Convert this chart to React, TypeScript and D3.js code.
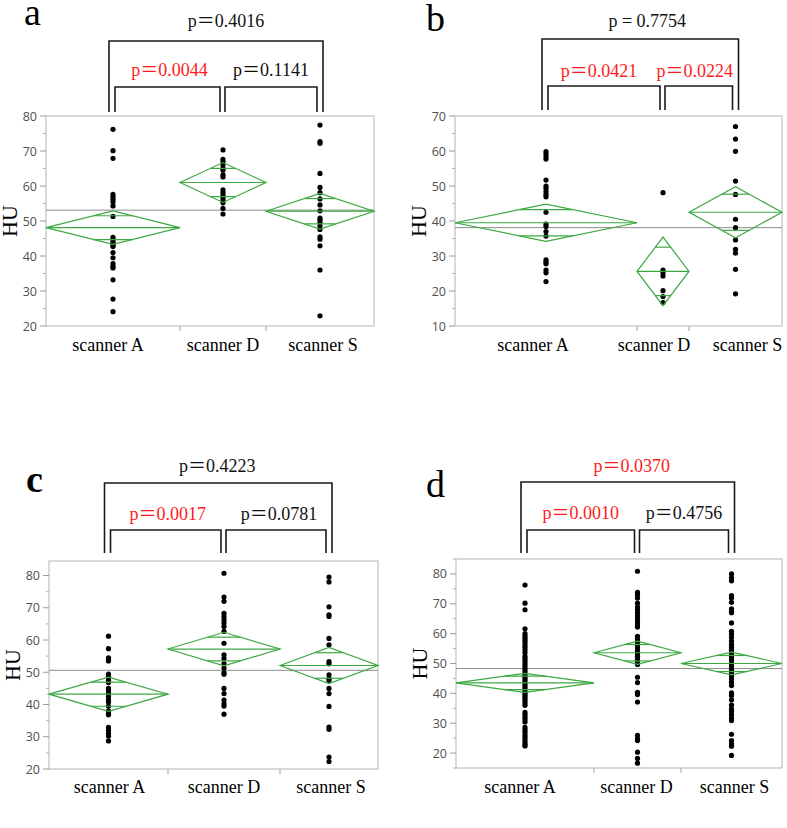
import React, { useEffect, useRef } from "react";
import * as d3 from "d3";

// group labels
const groups = ["scanner A", "scanner D", "scanner S"];

// panel a - HU values per scanner
const aScannerA = [76.2, 70.1, 67.9, 57.6, 56.9, 56.2, 55.5, 54.3, 51.3, 45.3, 44.6, 44.0, 43.5, 43.0, 42.7, 41.0, 39.5, 37.8, 37.0, 36.6, 33.2, 27.7, 24.1];
const aScannerD = [70.3, 67.6, 66.9, 66.0, 65.0, 64.5, 63.2, 62.6, 58.9, 58.2, 57.4, 56.7, 56.0, 55.2, 53.6, 52.0];
const aScannerS = [77.4, 72.7, 72.2, 63.6, 59.6, 58.1, 56.3, 54.6, 52.9, 50.8, 50.2, 49.5, 48.6, 47.6, 45.5, 44.8, 42.9, 36.0, 22.9];
const aMeans = [48.1, 61.0, 52.8];
const aCI = [4.8, 5.7, 5.1];
const aGrand = 53.1;
const aP = ["p＝0.4016", "p＝0.0044", "p＝0.1141"];

// panel b
const bScannerA = [59.8, 59.2, 58.4, 57.7, 51.7, 50.0, 49.3, 48.4, 47.6, 46.9, 42.5, 39.1, 38.4, 37.0, 35.7, 28.9, 28.3, 27.8, 26.0, 25.2, 22.7];
const bScannerD = [48.1, 26.0, 25.2, 24.3, 20.1, 18.4, 16.7];
const bScannerS = [67.0, 63.4, 59.9, 51.4, 47.6, 40.5, 38.1, 34.6, 31.9, 30.8, 26.2, 19.2];
const bMeans = [39.5, 25.6, 42.5];
const bCI = [5.3, 9.8, 7.3];
const bGrand = 38.1;
const bP = ["p = 0.7754", "p＝0.0421", "p＝0.0224"];

// panel c
const cScannerA = [61.2, 57.3, 54.5, 54.0, 53.5, 49.4, 48.5, 47.5, 46.8, 45.0, 44.5, 43.5, 42.5, 41.5, 40.8, 39.5, 38.0, 37.3, 36.8, 32.9, 32.0, 31.0, 30.2, 28.7];
const cScannerD = [80.7, 73.3, 72.0, 68.3, 67.3, 66.3, 65.3, 64.2, 62.7, 59.0, 55.4, 54.3, 52.7, 51.3, 49.9, 49.4, 45.0, 43.4, 41.4, 40.2, 39.5, 37.0];
const cScannerS = [79.5, 78.0, 70.3, 67.8, 67.3, 60.5, 58.5, 53.3, 52.6, 49.2, 48.0, 47.5, 45.0, 43.4, 39.4, 33.0, 32.3, 23.7, 22.3];
const cMeans = [43.2, 57.2, 52.1];
const cCI = [5.3, 5.2, 5.6];
const cGrand = 50.6;
const cP = ["p＝0.4223", "p＝0.0017", "p＝0.0781"];

// panel d
const dScannerA = [76.3, 70.2, 68.0, 61.6, 60.0, 59.2, 58.5, 57.8, 57.0, 56.2, 55.4, 54.5, 53.6, 52.4, 51.6, 50.8, 50.0, 49.2, 48.4, 47.6, 46.8, 46.0, 45.3, 44.6, 43.9, 43.2, 42.5, 41.8, 41.1, 40.4, 39.7, 39.0, 38.3, 37.6, 36.8, 36.0, 33.6, 32.8, 32.0, 31.2, 30.4, 28.6, 27.8, 27.0, 26.0, 25.2, 24.4, 23.6, 22.8, 22.4];
const dScannerD = [80.9, 73.8, 73.0, 71.9, 70.2, 68.9, 68.0, 67.0, 66.0, 65.0, 64.0, 63.0, 62.2, 59.1, 58.2, 57.2, 56.4, 55.3, 54.2, 53.3, 52.4, 51.4, 50.5, 49.7, 45.4, 43.6, 40.3, 39.6, 37.1, 25.9, 24.8, 24.2, 20.3, 18.2, 16.6];
const dScannerS = [80.0, 78.7, 77.7, 72.7, 71.9, 70.5, 68.3, 67.5, 67.0, 63.6, 60.8, 59.8, 58.7, 57.5, 56.4, 55.4, 54.4, 53.3, 52.2, 51.1, 50.0, 49.0, 47.9, 46.9, 45.8, 44.8, 43.7, 42.6, 40.2, 39.3, 37.8, 36.1, 34.8, 33.9, 32.8, 31.7, 30.9, 26.3, 24.2, 23.1, 22.3, 19.2];
const dMeans = [43.5, 53.6, 50.0];
const dCI = [3.2, 3.9, 3.8];
const dGrand = 48.3;
const dP = ["p＝0.0370", "p＝0.0010", "p＝0.4756"];

const RED = "#ff1a1a";
const GREEN = "#3da842";
const SERIF = "'Liberation Serif', 'Times New Roman', 'Noto Sans CJK JP', serif";

const panels = [
  {
    letter: "a", lx: 24, ly: 25, bold: false,
    box: [46, 374, 116, 326], yDom: [20, 80], cuts: [0, 0.4085, 0.6707, 1],
    data: [aScannerA, aScannerD, aScannerS], means: aMeans, ci: aCI, grand: aGrand,
    p: aP, sig: [false, true, false],
    topY: 27, outerY: 41, innerLabY: 76, innerY: 87, bracketBot: 112, labDx: [10, 2, 0],
    catY: 351, catDx: [-5, 0, 3]
  },
  {
    letter: "b", lx: 426, ly: 31, bold: false,
    box: [455, 782, 116, 326], yDom: [10, 70], cuts: [0, 0.5566, 0.7156, 1],
    data: [bScannerA, bScannerD, bScannerS], means: bMeans, ci: bCI, grand: bGrand,
    p: bP, sig: [false, true, true],
    topY: 27, outerY: 39, innerLabY: 77, innerY: 86, bracketBot: 110, labDx: [7, -5, -4],
    catY: 351, catDx: [-13, -9, 12]
  },
  {
    letter: "c", lx: 26, ly: 492, bold: true,
    box: [49, 378, 561, 769], yDom: [20, 84.5], cuts: [0, 0.3617, 0.7021, 1],
    data: [cScannerA, cScannerD, cScannerS], means: cMeans, ci: cCI, grand: cGrand,
    p: cP, sig: [false, true, false],
    topY: 472, outerY: 483, innerLabY: 520, innerY: 530, bracketBot: 553, labDx: [-1, 2, 3],
    catY: 793, catDx: [1, 0, 2]
  },
  {
    letter: "d", lx: 426, ly: 497, bold: false,
    box: [456, 782, 559, 768], yDom: [15, 85], cuts: [0, 0.4233, 0.6902, 1],
    data: [dScannerA, dScannerD, dScannerS], means: dMeans, ci: dCI, grand: dGrand,
    p: dP, sig: [true, true, false],
    topY: 472, outerY: 482, innerLabY: 519, innerY: 530, bracketBot: 553, labDx: [4, 0, 0],
    catY: 793, catDx: [-5, -1, 3]
  }
];

function drawPanel(svg, cfg) {
  const [x0, x1, y0, y1] = cfg.box;
  const g = svg.append("g");
  const y = d3.scaleLinear().domain(cfg.yDom).range([y1, y0]);
  const xs = d3.scaleLinear().domain([0, 1]).range([x0, x1]);
  const bands = groups.map((name, i) => {
    const a = xs(cfg.cuts[i]);
    const b = xs(cfg.cuts[i + 1]);
    return { name, a, b, c: (a + b) / 2, dx: cfg.catDx[i] };
  });

  // frame
  g.append("rect")
    .attr("x", x0).attr("y", y0)
    .attr("width", x1 - x0).attr("height", y1 - y0)
    .attr("fill", "none").attr("stroke", "#b4b4b4").attr("stroke-width", 1);

  // y ticks
  const major = d3.range(Math.ceil(cfg.yDom[0] / 10) * 10, cfg.yDom[1] + 0.01, 10);
  const minor = d3.range(Math.ceil(cfg.yDom[0] / 5) * 5, cfg.yDom[1] + 0.01, 5).filter(v => v % 10 !== 0);
  g.selectAll("line.maj").data(major).enter().append("line")
    .attr("x1", x0 - 6).attr("x2", x0)
    .attr("y1", d => y(d)).attr("y2", d => y(d))
    .attr("stroke", "#9a9a9a");
  g.selectAll("line.min").data(minor).enter().append("line")
    .attr("x1", x0 - 3).attr("x2", x0)
    .attr("y1", d => y(d)).attr("y2", d => y(d))
    .attr("stroke", "#b0b0b0");
  g.selectAll("text.tick").data(major).enter().append("text")
    .attr("x", x0 - 9).attr("y", d => y(d) + 4.5)
    .attr("text-anchor", "end")
    .attr("font-family", "'Open Sans', 'DejaVu Sans', sans-serif")
    .attr("font-size", 12.5).attr("fill", "#505050")
    .text(d => d);

  // group separators
  g.selectAll("line.sep").data(bands.slice(1)).enter().append("line")
    .attr("x1", d => d.a).attr("x2", d => d.a)
    .attr("y1", y1).attr("y2", y1 + 5)
    .attr("stroke", "#a0a0a0");

  // HU label
  g.append("text")
    .attr("transform", `translate(${x0 - 29},${(y0 + y1) / 2}) rotate(-90)`)
    .attr("text-anchor", "middle")
    .attr("font-family", SERIF).attr("font-size", 22)
    .text("HU");

  // grand mean
  g.append("line")
    .attr("x1", x0).attr("x2", x1)
    .attr("y1", y(cfg.grand)).attr("y2", y(cfg.grand))
    .attr("stroke", "#8c8c8c").attr("stroke-width", 1);

  // points
  bands.forEach((bd, i) => {
    g.selectAll(null).data(cfg.data[i]).enter().append("circle")
      .attr("cx", bd.c).attr("cy", d => y(d))
      .attr("r", 2.6).attr("fill", "#000");
  });

  // means diamonds
  bands.forEach((bd, i) => {
    const m = cfg.means[i];
    const h = cfg.ci[i];
    const pts = [[bd.a, y(m)], [bd.c, y(m + h)], [bd.b, y(m)], [bd.c, y(m - h)]];
    g.append("path")
      .attr("d", d3.line()(pts) + "Z")
      .attr("fill", "none").attr("stroke", GREEN).attr("stroke-width", 1.2);
    g.append("line")
      .attr("x1", bd.a).attr("x2", bd.b)
      .attr("y1", y(m)).attr("y2", y(m))
      .attr("stroke", GREEN).attr("stroke-width", 1.2);
    const off = h / Math.SQRT2;
    const half = ((bd.b - bd.a) / 2) * (1 - 1 / Math.SQRT2);
    [m + off, m - off].forEach(v => {
      g.append("line")
        .attr("x1", bd.c - half).attr("x2", bd.c + half)
        .attr("y1", y(v)).attr("y2", y(v))
        .attr("stroke", GREEN).attr("stroke-width", 1.2);
    });
  });

  // category labels
  g.selectAll("text.cat").data(bands).enter().append("text")
    .attr("x", d => d.c + d.dx).attr("y", cfg.catY)
    .attr("text-anchor", "middle")
    .attr("font-family", SERIF).attr("font-size", 18)
    .text(d => d.name);

  // brackets
  const cA = bands[0].c, cD = bands[1].c, cS = bands[2].c;
  const br = [
    { l: cA - 4, r: cS + 3, top: cfg.outerY, ly: cfg.topY },
    { l: cA + 2, r: cD - 3, top: cfg.innerY, ly: cfg.innerLabY },
    { l: cD + 2, r: cS - 3, top: cfg.innerY, ly: cfg.innerLabY }
  ];
  br.forEach((b, i) => {
    g.append("path")
      .attr("d", d3.line()([[b.l, cfg.bracketBot], [b.l, b.top], [b.r, b.top], [b.r, cfg.bracketBot]]))
      .attr("fill", "none").attr("stroke", "#1a1a1a").attr("stroke-width", 1.6);
    g.append("text")
      .attr("x", (b.l + b.r) / 2 + cfg.labDx[i]).attr("y", b.ly)
      .attr("text-anchor", "middle")
      .attr("font-family", SERIF).attr("font-size", 18)
      .attr("fill", cfg.sig[i] ? RED : "#111")
      .text(cfg.p[i]);
  });

  // panel letter
  g.append("text")
    .attr("x", cfg.lx).attr("y", cfg.ly)
    .attr("font-family", SERIF).attr("font-size", 38)
    .attr("font-weight", cfg.bold ? "bold" : "normal")
    .text(cfg.letter);
}

export default function App() {
  const ref = useRef(null);

  useEffect(() => {
    const svg = d3.select(ref.current);
    svg.selectAll("*").remove();
    svg.append("rect").attr("width", 787).attr("height", 828).attr("fill", "#fff");
    panels.forEach(p => drawPanel(svg, p));
  }, []);

  return (
    <div style={{ position: "absolute", left: 0, top: 0 }}>
      <svg ref={ref} width={787} height={828} />
    </div>
  );
}
